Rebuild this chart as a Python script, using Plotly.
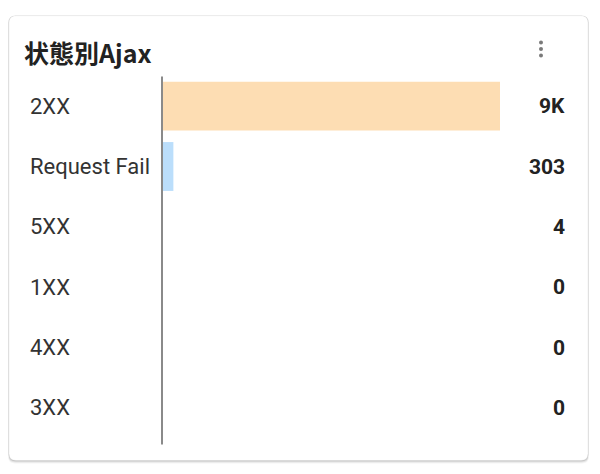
import plotly.graph_objects as go

# ---- data ----
categories = ["2XX", "Request Fail", "5XX", "1XX", "4XX", "3XX"]
values = [9000, 303, 4, 0, 0, 0]
bar_colors = ["#FDDDB3", "#BBDEFB", "#F8BBD0", "#C8E6C9", "#E1BEE7", "#FFF9C4"]
title_text = "状態別Ajax"

W, H = 600, 474
L, R, T, B = 162, 500, 75.5, 438.5  # plot area in pixels


def px(x):
    return (x - L) / (R - L)


def py(y):
    return (B - y) / (B - T)


def fmt(v):
    if v >= 1000:
        return f"{round(v / 1000)}K"
    return str(v)


def rrect(x0, y0, x1, y1, r):
    rx = r / (R - L)
    ry = r / (B - T)
    a, b, c, d = px(x0), py(y0), px(x1), py(y1)
    return (f"M {a+rx},{b} L {c-rx},{b} Q {c},{b} {c},{b-ry} "
            f"L {c},{d+ry} Q {c},{d} {c-rx},{d} L {a+rx},{d} "
            f"Q {a},{d} {a},{d+ry} L {a},{b-ry} Q {a},{b} {a+rx},{b} Z")


fig = go.Figure()
fig.add_trace(go.Bar(
    y=categories, x=values, orientation="h",
    marker=dict(color=bar_colors, line=dict(width=0)),
    hoverinfo="skip", showlegend=False,
))

shapes = []
for off, col in [(3, "rgba(0,0,0,0.04)"), (2, "rgba(0,0,0,0.07)"), (1, "rgba(0,0,0,0.10)")]:
    shapes.append(dict(type="path", xref="paper", yref="paper", layer="below",
                       path=rrect(9 - off * 0.3, 15, 588 + off * 0.3, 461 + off, 7),
                       fillcolor=col, line=dict(width=0)))
shapes.append(dict(type="path", xref="paper", yref="paper", layer="below",
                   path=rrect(9, 15, 588, 461, 7),
                   fillcolor="white", line=dict(width=1, color="rgba(0,0,0,0.05)")))
shapes.append(dict(type="line", xref="paper", yref="paper", layer="above",
                   x0=px(162), x1=px(162), y0=py(76), y1=py(445),
                   line=dict(color="#8a8a8a", width=2)))
for yy in [42, 48.5, 55]:
    shapes.append(dict(type="circle", xref="paper", yref="paper",
                       x0=px(539), x1=px(543), y0=py(yy - 2), y1=py(yy + 2),
                       fillcolor="#7a7a7a", line=dict(width=0)))

annotations = [dict(xref="paper", yref="paper", x=px(22), y=py(51),
                    xanchor="left", yanchor="middle", showarrow=False,
                    text=f"<b>{title_text}</b>",
                    font=dict(family="Noto Sans CJK JP", size=25, color="#222"))]
for c, v in zip(categories, values):
    annotations.append(dict(xref="paper", yref="y", x=px(28), y=c,
                            xanchor="left", yanchor="middle", showarrow=False,
                            text=c, font=dict(family="Roboto", size=22, color="#333")))
    annotations.append(dict(xref="paper", yref="y", x=px(567), y=c,
                            xanchor="right", yanchor="middle", showarrow=False,
                            text=f"<b>{fmt(v)}</b>",
                            font=dict(family="Roboto", size=21, color="#222")))

fig.update_layout(
    width=W, height=H,
    margin=dict(l=L, r=W - R, t=T, b=H - B, pad=0),
    paper_bgcolor="white", plot_bgcolor="rgba(0,0,0,0)",
    bargap=0.19,
    xaxis=dict(range=[0, max(values)], visible=False, fixedrange=True),
    yaxis=dict(autorange="reversed", showticklabels=False, showgrid=False,
               zeroline=False, showline=False, ticks="", fixedrange=True),
    shapes=shapes, annotations=annotations,
)

fig.write_html("out.html", config={"displayModeBar": False})
